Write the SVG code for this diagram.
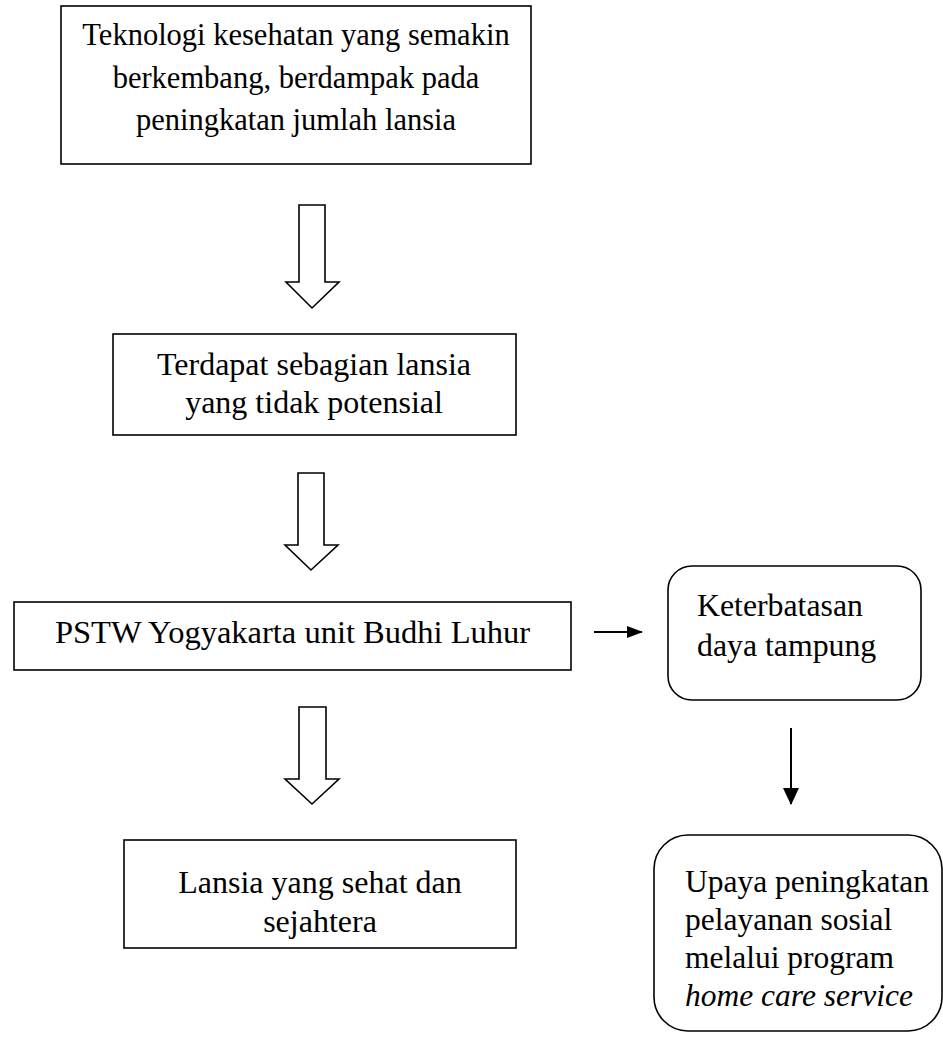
<svg xmlns="http://www.w3.org/2000/svg" width="943" height="1037" viewBox="0 0 943 1037">
<style>
.box{fill:#fff;stroke:#000;stroke-width:1.6}
.blk{fill:none;stroke:#000;stroke-width:1.6}
.t{font-family:"Liberation Serif","Times New Roman",serif;font-size:31px;fill:#000}
.c{text-anchor:middle}
.i{font-style:italic}
</style>
<defs>
<marker id="ah" markerWidth="16" markerHeight="12" refX="15" refY="6" orient="auto" markerUnits="userSpaceOnUse">
<path d="M0,0 L16,6 L0,12 Z" fill="#000"/>
</marker>
<marker id="av" markerWidth="17" markerHeight="16" refX="16" refY="8" orient="auto" markerUnits="userSpaceOnUse">
<path d="M0,0 L17,8 L0,16 Z" fill="#000"/>
</marker>
</defs>
<rect width="943" height="1037" fill="#fff"/>
<g id="n1">
<rect class="box" x="61" y="6" width="470" height="158"/>
<text class="t c" x="296" y="45" style="font-size:30.5px">Teknologi kesehatan yang semakin</text>
<text class="t c" x="296" y="88" style="font-size:30.5px">berkembang, berdampak pada</text>
<text class="t c" x="296" y="130" style="font-size:30.5px">peningkatan jumlah lansia</text>
</g>
<g id="n2">
<rect class="box" x="113" y="334" width="403" height="101"/>
<text class="t c" x="314" y="375" style="font-size:32px">Terdapat sebagian lansia</text>
<text class="t c" x="314" y="413" style="font-size:32px">yang tidak potensial</text>
</g>
<g id="n3">
<rect class="box" x="14" y="602" width="557" height="68"/>
<text class="t c" x="292.5" y="643" style="font-size:32.5px">PSTW Yogyakarta unit Budhi Luhur</text>
</g>
<g id="n4">
<rect class="box" x="668" y="566" width="253" height="134" rx="24" ry="24"/>
<text class="t" x="697" y="616" style="font-size:31.8px">Keterbatasan</text>
<text class="t" x="697" y="656" style="font-size:31.8px">daya tampung</text>
</g>
<g id="n5">
<rect class="box" x="124" y="840" width="392" height="108"/>
<text class="t c" x="320" y="893" style="font-size:32px">Lansia yang sehat dan</text>
<text class="t c" x="320" y="932" style="font-size:32px">sejahtera</text>
</g>
<g id="n6">
<rect class="box" x="654" y="835" width="288" height="196" rx="34" ry="34"/>
<text class="t" x="685" y="892" style="font-size:31.5px">Upaya peningkatan</text>
<text class="t" x="685" y="930" style="font-size:31.5px">pelayanan sosial</text>
<text class="t" x="685" y="968" style="font-size:31.5px">melalui program</text>
<text class="t i" x="685" y="1006" style="font-size:31.5px">home care service</text>
</g>
<g id="connectors">
<polygon class="blk" points="299,205 325,205 325,282 339,282 312,308 286,282 299,282"/>
<polygon class="blk" points="298,473 324,473 324,545 338,545 311,570 285,545 298,545"/>
<polygon class="blk" points="299,707 326,707 326,779 339,779 312,804 285,779 299,779"/>
<line x1="594" y1="632" x2="642" y2="632" stroke="#000" stroke-width="2" marker-end="url(#ah)"/>
<line x1="791" y1="728" x2="791" y2="804" stroke="#000" stroke-width="2" marker-end="url(#av)"/>
</g>
</svg>
